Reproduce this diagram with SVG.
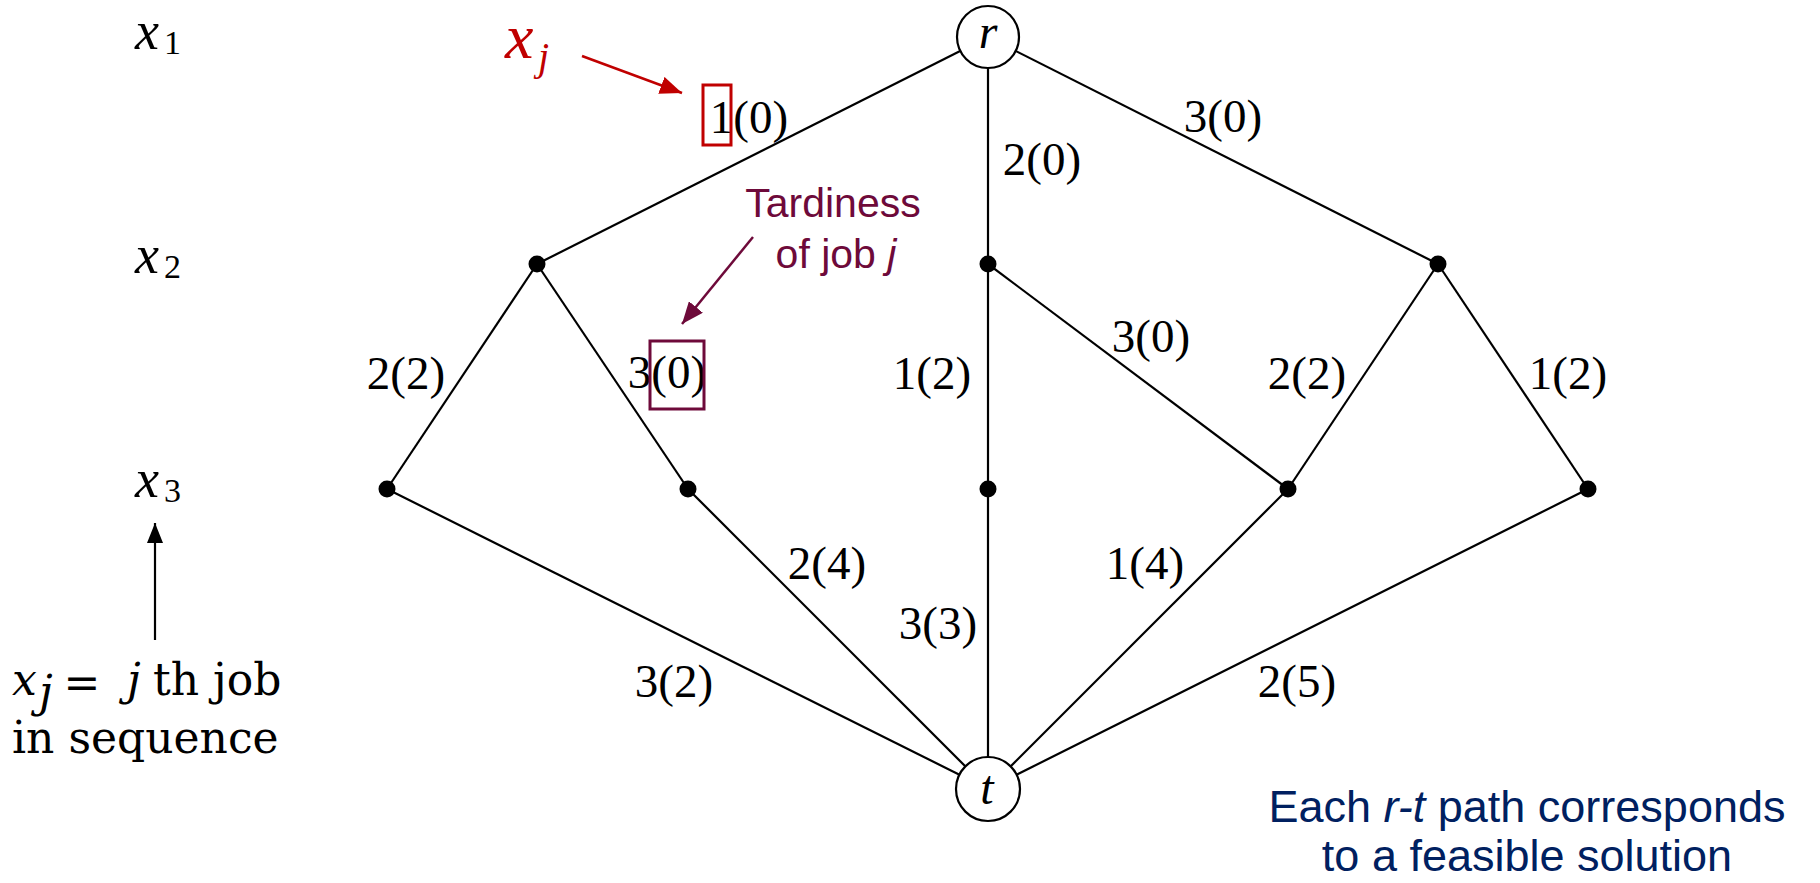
<svg xmlns="http://www.w3.org/2000/svg" width="1820" height="883" viewBox="0 0 1820 883">
<style>
.edge{stroke:#000;stroke-width:2.2;fill:none}
.dot{fill:#000}
.circ{fill:#fff;stroke:#000;stroke-width:2.2}
.lbl{font-family:"Liberation Serif",serif;font-size:47px;fill:#000;text-anchor:middle}
.var{font-family:"Liberation Serif",serif;font-style:italic;font-size:54px;fill:#000}
.sub{font-family:"Liberation Serif",serif;font-size:34px;fill:#000}
.nodeTxt{font-family:"Liberation Serif",serif;font-style:italic;font-size:48px;fill:#000;text-anchor:middle}
.tard{font-family:"Liberation Sans",Arial,sans-serif;font-size:41px;fill:#6E0A3A;text-anchor:middle}
.note{font-family:"Liberation Sans",Arial,sans-serif;font-size:45px;fill:#002060;text-anchor:middle}
.cam{font-family:"DejaVu Serif",serif;font-size:44px;fill:#000}
</style>
<defs>
<marker id="arrRed" markerWidth="22" markerHeight="18" refX="22" refY="9" orient="auto" markerUnits="userSpaceOnUse">
<path d="M0,0 L22,9 L0,18 z" fill="#C00000"/>
</marker>
<marker id="arrPur" markerWidth="22" markerHeight="18" refX="22" refY="9" orient="auto" markerUnits="userSpaceOnUse">
<path d="M0,0 L22,9 L0,18 z" fill="#6E0A3A"/>
</marker>
<marker id="arrBlk" markerWidth="20" markerHeight="16" refX="20" refY="8" orient="auto" markerUnits="userSpaceOnUse">
<path d="M0,0 L20,8 L0,16 z" fill="#000"/>
</marker>
</defs>

<g id="connectors">
<line class="edge" x1="988" y1="37" x2="537" y2="264"/>
<line class="edge" x1="988" y1="37" x2="988" y2="264"/>
<line class="edge" x1="988" y1="37" x2="1438" y2="264"/>
<line class="edge" x1="537" y1="264" x2="387" y2="489"/>
<line class="edge" x1="537" y1="264" x2="688" y2="489"/>
<line class="edge" x1="988" y1="264" x2="988" y2="489"/>
<line class="edge" x1="988" y1="264" x2="1288" y2="489"/>
<line class="edge" x1="1438" y1="264" x2="1288" y2="489"/>
<line class="edge" x1="1438" y1="264" x2="1588" y2="489"/>
<line class="edge" x1="387" y1="489" x2="988" y2="789"/>
<line class="edge" x1="688" y1="489" x2="988" y2="789"/>
<line class="edge" x1="988" y1="489" x2="988" y2="789"/>
<line class="edge" x1="1288" y1="489" x2="988" y2="789"/>
<line class="edge" x1="1588" y1="489" x2="988" y2="789"/>
</g>

<g id="edge-labels">
<text class="lbl" x="749" y="133">1(0)</text>
<text class="lbl" x="1042" y="175">2(0)</text>
<text class="lbl" x="1223" y="132">3(0)</text>
<text class="lbl" x="406" y="389">2(2)</text>
<text class="lbl" x="667" y="388">3(0)</text>
<text class="lbl" x="932" y="389">1(2)</text>
<text class="lbl" x="1151" y="352">3(0)</text>
<text class="lbl" x="1307" y="389">2(2)</text>
<text class="lbl" x="1568" y="389">1(2)</text>
<text class="lbl" x="827" y="579">2(4)</text>
<text class="lbl" x="938" y="639">3(3)</text>
<text class="lbl" x="1145" y="579">1(4)</text>
<text class="lbl" x="674" y="697">3(2)</text>
<text class="lbl" x="1297" y="697">2(5)</text>
</g>

<g id="node-r">
<circle class="circ" cx="988" cy="37" r="31"/>
<text class="nodeTxt" x="988" y="48">r</text>
</g>
<g id="node-t">
<circle class="circ" cx="988" cy="789" r="32"/>
<text class="nodeTxt" x="987" y="804">t</text>
</g>
<g id="node-a"><circle class="dot" cx="537" cy="264" r="8.5"/></g>
<g id="node-b"><circle class="dot" cx="988" cy="264" r="8.5"/></g>
<g id="node-c"><circle class="dot" cx="1438" cy="264" r="8.5"/></g>
<g id="node-d"><circle class="dot" cx="387" cy="489" r="8.5"/></g>
<g id="node-e"><circle class="dot" cx="688" cy="489" r="8.5"/></g>
<g id="node-f"><circle class="dot" cx="988" cy="489" r="8.5"/></g>
<g id="node-g"><circle class="dot" cx="1288" cy="489" r="8.5"/></g>
<g id="node-h"><circle class="dot" cx="1588" cy="489" r="8.5"/></g>

<g id="level-labels">
<text class="var" x="135" y="49">x</text><text class="sub" x="164" y="54">1</text>
<text class="var" x="135" y="273">x</text><text class="sub" x="164" y="278">2</text>
<text class="var" x="135" y="497">x</text><text class="sub" x="164" y="502">3</text>
</g>

<g id="xj-annotation">
<text x="505" y="58" font-family="'Liberation Serif',serif" font-style="italic" font-size="64" fill="#C00000">x</text>
<text x="538" y="70" font-family="'Liberation Serif',serif" font-style="italic" font-size="40" fill="#C00000">j</text>
<line x1="582" y1="56" x2="682" y2="93" stroke="#C00000" stroke-width="2.5" marker-end="url(#arrRed)"/>
<rect x="703" y="85" width="28" height="60" fill="none" stroke="#C00000" stroke-width="3"/>
</g>

<g id="tardiness-annotation">
<text class="tard" x="833" y="217">Tardiness</text>
<text class="tard" x="836" y="268">of job <tspan font-style="italic">j</tspan></text>
<line x1="753" y1="237" x2="682" y2="324" stroke="#6E0A3A" stroke-width="2.5" marker-end="url(#arrPur)"/>
<rect x="650" y="341" width="54" height="68" fill="none" stroke="#6E0A3A" stroke-width="3"/>
</g>

<g id="sequence-annotation">
<line x1="155" y1="640" x2="155" y2="523" stroke="#000" stroke-width="2.2" marker-end="url(#arrBlk)"/>
<text class="cam" x="12" y="695" font-style="italic" font-size="46">x</text>
<text class="cam" x="39" y="707" font-style="italic" font-size="30">j</text>
<text class="cam" x="82" y="698" text-anchor="middle" font-size="60">=</text>
<text class="cam" x="127" y="695" font-style="italic">j</text>
<text class="cam" x="153" y="695">th job</text>
<text class="cam" x="12" y="753">in sequence</text>
</g>

<g id="path-note">
<text class="note" x="1527" y="822">Each <tspan font-style="italic">r-t</tspan> path corresponds</text>
<text class="note" x="1527" y="871">to a feasible solution</text>
</g>
</svg>
